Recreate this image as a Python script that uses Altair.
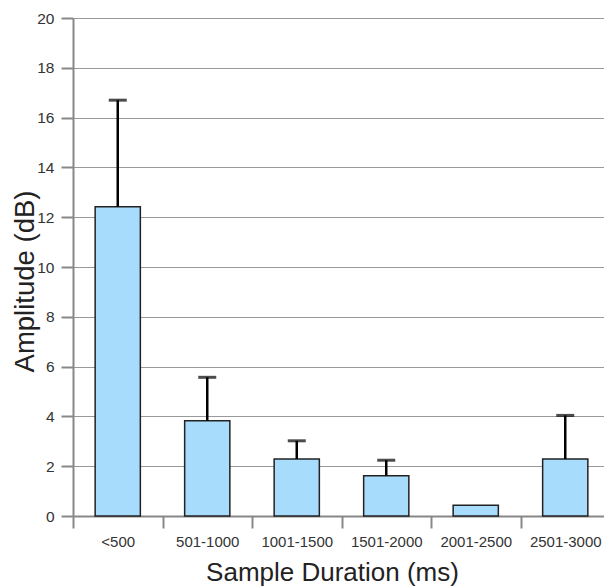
import altair as alt
import pandas as pd

categories = ["<500", "501-1000", "1001-1500", "1501-2000", "2001-2500", "2501-3000"]
means = [12.42, 3.83, 2.29, 1.62, 0.43, 2.29]
upper = [16.7, 5.57, 3.02, 2.24, 0.43, 4.04]

df = pd.DataFrame({"cat": categories, "mean": means, "upper": upper})

FONT = "Liberation Sans"

xscale = alt.Scale(range=[0, 537], paddingInner=0, paddingOuter=0)
yscale = alt.Scale(domain=[0, 20], nice=False)

x = alt.X("cat:N", sort=categories, title="Sample Duration (ms)", scale=xscale,
          axis=alt.Axis(labelAngle=0, tickBand="extent", tickSize=12, grid=False,
                        labelFontSize=15, labelPadding=6,
                        titleFontSize=26, titleX=259, titleY=64,
                        titleBaseline="alphabetic", titleAlign="center"))
yaxis = alt.Axis(values=list(range(0, 21, 2)), tickSize=12, grid=True,
                 labelFontSize=15.5, labelPadding=7,
                 titleFontSize=27.5, titleX=-40, titleY=263,
                 titleBaseline="alphabetic", titleAlign="center")
y = alt.Y("mean:Q", title="Amplitude (dB)", scale=yscale, axis=yaxis)

bars = alt.Chart(df).mark_bar(color="#a8dcfc", stroke="#222", strokeWidth=1.5,
                              width={"band": 0.505}).encode(x=x, y=y)

err = alt.Chart(df).transform_filter("datum.upper > datum.mean").mark_rule(
    color="black", strokeWidth=2.5).encode(x=x, y=y, y2="upper:Q")

cap = alt.Chart(df).transform_filter("datum.upper > datum.mean").mark_tick(
    color="black", thickness=3, size=18, orient="horizontal").encode(
    x=x, y=alt.Y("upper:Q", title="Amplitude (dB)", scale=yscale, axis=yaxis))

chart = (bars + err + cap).properties(
    width=531, height=498,
    padding={"left": 73, "top": 18, "right": 0, "bottom": 71},
    autosize=alt.AutoSizeParams(type="none"),
).configure_view(stroke=None).configure(background="white").configure_axis(
    tickColor="#888", tickWidth=2, domainColor="#888", domainWidth=2,
    gridColor="#999", gridWidth=1.2,
    labelColor="#333", labelFont=FONT,
    titleFont=FONT, titleFontWeight="normal", titleColor="#222",
)

chart.save("out.html", embed_options={"renderer": "svg", "actions": False})
